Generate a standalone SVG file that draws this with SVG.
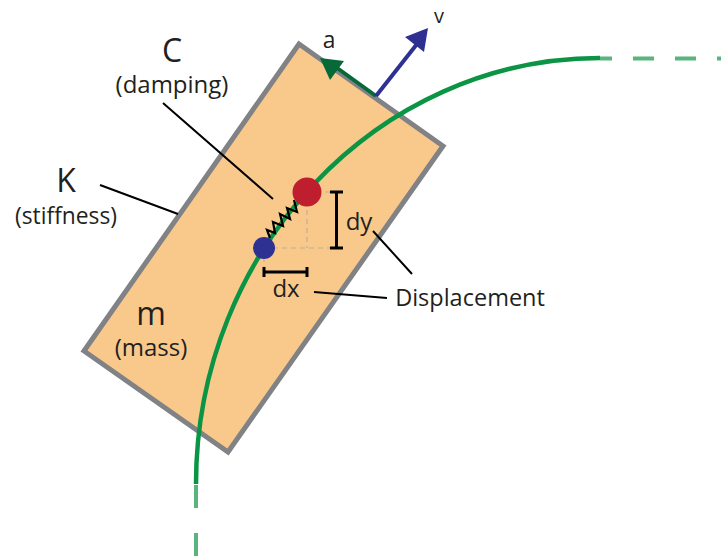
<svg xmlns="http://www.w3.org/2000/svg" width="721" height="559" viewBox="0 0 721 559">
<style>
text{font-family:"Open Sans","Noto Sans",sans-serif;fill:#231f20}
.b{font-size:32px}.s{font-size:24px}.m{font-size:22.800px}
.l{fill:none;stroke:#000;stroke-width:2}
.t{fill:none;stroke:#000;stroke-width:3}
.g{fill:none;stroke:#5ab47e;stroke-width:4}
.d{fill:none;stroke:#bfae9a;stroke-width:1.200;stroke-dasharray:5 4}
</style>
<g id="mass"><polygon points="299,44 443,146 228,452 84,351" fill="#f9c98c" stroke="#808285" stroke-width="5"/></g>
<g id="connectors">
<path d="M196,484C196,250 378,58 600,58" fill="none" stroke="#0b9444" stroke-width="4.500"/>
<path class="g" d="M196,485V508M196,533V556M600,58.500H612M633,58.500H654M675,58.500H696M717,58.500H721"/>
<path d="M376,96L333,65" fill="none" stroke="#076838" stroke-width="4"/>
<polygon points="320,58 344,61 330,80" fill="#076838"/>
<path d="M376,96L417,44" fill="none" stroke="#2e3192" stroke-width="4"/>
<polygon points="428,28 405,37 424,52" fill="#2e3192"/>
<path class="l" d="M273,199L163,103M178,214L100,185M412,274L373,231M387,298L314,292"/>
<path class="d" d="M307,192H330M307,192V248M264,248H330M264,248V268"/>
<path class="t" d="M330,192H343M336.500,192V248M330,248H343M264,272H307M264,267V277M307,267V277"/>
<path d="M294,200L297,212L287,208L290,219L280,214L283,226L273,222L275,233L267,230L270,238" fill="none" stroke="#000" stroke-width="2.200"/>
</g>
<g id="node-red"><circle cx="307" cy="192" r="14.500" fill="#be1e2d"/></g>
<g id="node-blue"><circle cx="264" cy="248" r="11" fill="#2e3192"/></g>
<g id="labels">
<text class="b" x="172" y="62" text-anchor="middle">C</text>
<text class="s" x="172" y="93" text-anchor="middle">(damping)</text>
<text class="b" x="66" y="192" text-anchor="middle">K</text>
<text class="m" x="66" y="224" text-anchor="middle">(stiffness)</text>
<text class="b" x="151" y="325" text-anchor="middle">m</text>
<text class="s" x="151" y="356" text-anchor="middle">(mass)</text>
<text class="m" x="329" y="48" text-anchor="middle">a</text>
<text x="439" y="23" text-anchor="middle" style="font-size:20px">v</text>
<text x="359" y="230" text-anchor="middle" style="font-size:24px">dy</text>
<text x="286" y="297" text-anchor="middle" style="font-size:24px">dx</text>
<text x="470" y="306" text-anchor="middle" style="font-size:23.500px">Displacement</text>
</g>
</svg>
